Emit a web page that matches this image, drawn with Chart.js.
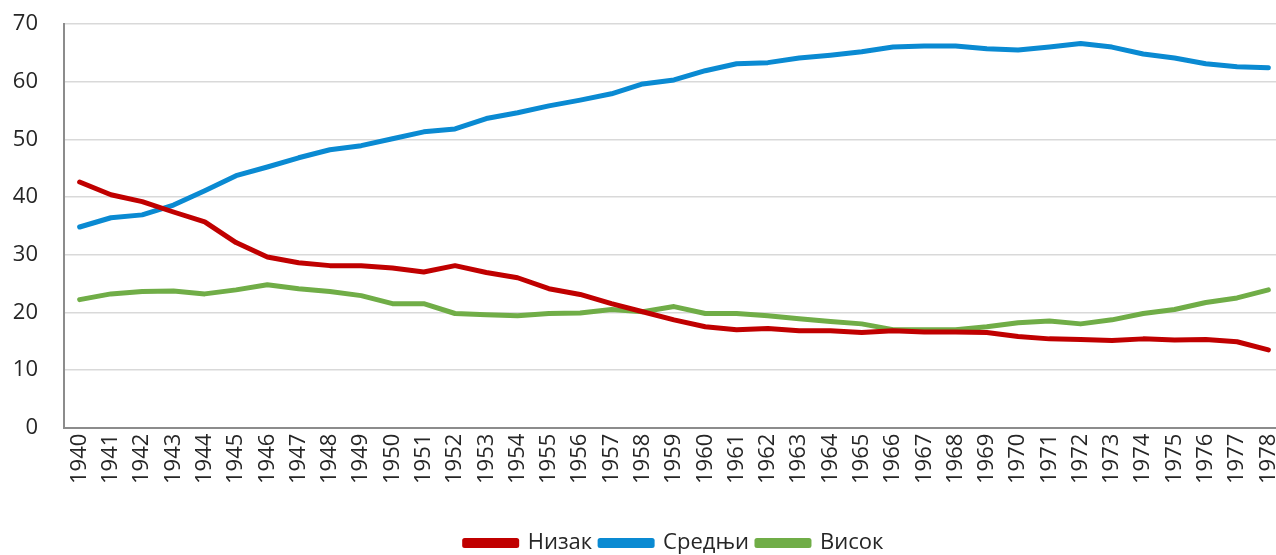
<!DOCTYPE html>
<html>
<head>
<meta charset="utf-8">
<script src="https://cdn.jsdelivr.net/npm/chart.js@4"></script>
<style>
  html, body { margin: 0; padding: 0; background: #fff; overflow: hidden; }
  #wrap { width: 1284px; height: 564px; }
</style>
</head>
<body>
<div id="wrap"><canvas id="line-chart" width="1284" height="564"></canvas></div>
<script>
// data
var years = ['1940', '1941', '1942', '1943', '1944', '1945', '1946', '1947', '1948', '1949',
    '1950', '1951', '1952', '1953', '1954', '1955', '1956', '1957', '1958', '1959',
    '1960', '1961', '1962', '1963', '1964', '1965', '1966', '1967', '1968', '1969',
    '1970', '1971', '1972', '1973', '1974', '1975', '1976', '1977', '1978'];

var nizak = [42.6, 40.4, 39.2, 37.4, 35.7, 32.1, 29.6, 28.6, 28.1, 28.1,
    27.7, 27.0, 28.1, 26.9, 26.0, 24.1, 23.1, 21.5, 20.1, 18.7,
    17.5, 17.0, 17.2, 16.8, 16.8, 16.5, 16.8, 16.6, 16.6, 16.5,
    15.8, 15.4, 15.3, 15.1, 15.4, 15.2, 15.3, 14.9, 13.5];

var srednji = [34.8, 36.4, 36.9, 38.6, 41.1, 43.7, 45.2, 46.8, 48.2, 48.9,
    50.1, 51.3, 51.8, 53.6, 54.6, 55.8, 56.8, 57.9, 59.6, 60.3,
    61.9, 63.1, 63.3, 64.1, 64.6, 65.2, 66.0, 66.2, 66.2, 65.7,
    65.5, 66.0, 66.6, 66.0, 64.8, 64.1, 63.1, 62.6, 62.4];

var visok = [22.2, 23.2, 23.6, 23.7, 23.2, 23.9, 24.8, 24.1, 23.6, 22.9,
    21.5, 21.5, 19.8, 19.6, 19.4, 19.8, 19.9, 20.5, 20.1, 21.0,
    19.8, 19.8, 19.4, 18.9, 18.4, 18.0, 17.0, 17.0, 17.0, 17.5,
    18.2, 18.5, 18.0, 18.7, 19.8, 20.5, 21.7, 22.5, 23.9];

var yTicks = [0, 10, 20, 30, 40, 50, 60, 70];

var fontFamily = "'Open Sans', 'Noto Sans', sans-serif";

function series(label, data, color) {
    return {
        label: label,
        data: data,
        borderColor: color,
        backgroundColor: color,
        borderWidth: 5,
        pointRadius: 0,
        pointHoverRadius: 0,
        tension: 0,
        fill: false,
        borderCapStyle: 'round',
        borderJoinStyle: 'round'
    };
}

var ctx = document.querySelector('#line-chart');
var myChart = new Chart(ctx, {
    type: 'line',
    data: {
        labels: years,
        datasets: [
            series('Низак', nizak, '#c00000'),
            series('Средњи', srednji, '#0a8ad2'),
            series('Висок', visok, '#70ad47')
        ]
    },
    options: {
        responsive: false,
        animation: false,
        layout: {
            padding: { left: 13, top: 24, right: 0, bottom: 0 }
        },
        plugins: {
            tooltip: { enabled: false },
            legend: {
                position: 'bottom',
                align: 'center',
                fullSize: false,
                labels: {
                    color: '#262626',
                    boxWidth: 52,
                    boxHeight: 5,
                    padding: 8,
                    font: { size: 22, family: fontFamily }
                }
            }
        },
        scales: {
            x: {
                offset: true,
                grid: { display: false, drawTicks: false },
                border: { display: true, color: '#8c8c8c', width: 2 },
                ticks: {
                    color: '#262626',
                    minRotation: 90,
                    maxRotation: 90,
                    autoSkip: false,
                    padding: 6,
                    font: { size: 22, family: fontFamily }
                },
                afterFit: function (scale) {
                    scale.height += 34;
                    scale.paddingLeft = 0;
                    scale.paddingRight = 0;
                }
            },
            y: {
                min: 0,
                max: 70,
                afterBuildTicks: function (scale) {
                    scale.ticks = yTicks.map(function (v) { return { value: v }; });
                },
                afterFit: function (scale) {
                    scale.width = 51;
                    scale.paddingTop = 13;
                    scale.paddingBottom = 13;
                },
                grid: { color: '#d9d9d9', lineWidth: 1.5, drawTicks: false },
                border: { display: true, color: '#8c8c8c', width: 2 },
                ticks: {
                    color: '#262626',
                    padding: 26,
                    font: { size: 22, family: fontFamily }
                }
            }
        }
    }
});
</script>
</body>
</html>
